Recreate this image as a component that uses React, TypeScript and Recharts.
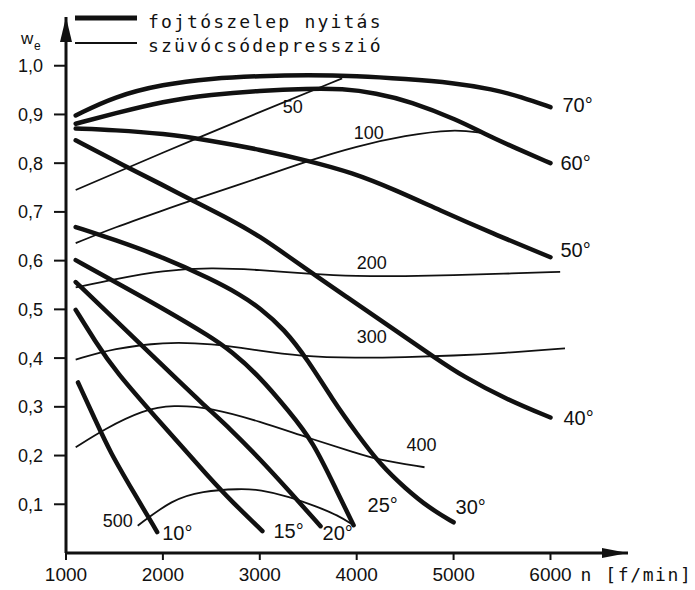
import React from "react";
import { LineChart, Line, XAxis, YAxis, ReferenceDot, Legend } from "recharts";

type Pt = [number, number];

const xTicks = [1000, 2000, 3000, 4000, 5000, 6000];
const yTicks = [0.1, 0.2, 0.3, 0.4, 0.5, 0.6, 0.7, 0.8, 0.9, 1.0];

// fojtószelep nyitás (thick) – [n, w_e]
const deg70: Pt[] = [[1100, 0.898], [1500, 0.937], [2000, 0.962], [2500, 0.974], [3000, 0.979], [3500, 0.981], [4000, 0.979], [4500, 0.973], [5000, 0.965], [5400, 0.952], [5700, 0.936], [6000, 0.915]];
const deg60: Pt[] = [[1100, 0.881], [1500, 0.902], [2000, 0.927], [2500, 0.941], [3000, 0.949], [3500, 0.953], [3850, 0.953], [4200, 0.944], [4550, 0.927], [5050, 0.888], [5300, 0.862], [5650, 0.83], [6000, 0.8]];
const deg50: Pt[] = [[1100, 0.871], [1500, 0.868], [2000, 0.861], [2500, 0.846], [3000, 0.828], [3500, 0.805], [3950, 0.781], [4400, 0.745], [4850, 0.704], [5400, 0.656], [6000, 0.607]];
const deg40: Pt[] = [[1100, 0.847], [1600, 0.795], [2000, 0.755], [2300, 0.724], [2700, 0.684], [3000, 0.65], [3300, 0.608], [3600, 0.566], [3900, 0.525], [4200, 0.484], [4500, 0.443], [4800, 0.402], [5100, 0.362], [5550, 0.315], [6000, 0.278]];
const deg30: Pt[] = [[1100, 0.669], [1500, 0.643], [2000, 0.607], [2500, 0.562], [2800, 0.53], [3000, 0.503], [3250, 0.46], [3500, 0.395], [3750, 0.315], [4000, 0.245], [4250, 0.18], [4500, 0.133], [4750, 0.092], [5000, 0.063]];
const deg25: Pt[] = [[1100, 0.601], [1500, 0.557], [2000, 0.502], [2500, 0.443], [2700, 0.415], [3000, 0.362], [3300, 0.291], [3550, 0.229], [3800, 0.125], [3968, 0.057]];
const deg20: Pt[] = [[1100, 0.556], [1500, 0.48], [2044, 0.376], [2400, 0.308], [2700, 0.254], [3000, 0.193], [3300, 0.128], [3627, 0.055]];
const deg15: Pt[] = [[1100, 0.499], [1300, 0.435], [1500, 0.375], [2000, 0.262], [2500, 0.15], [2700, 0.108], [3027, 0.045]];
const deg10: Pt[] = [[1124, 0.35], [1300, 0.274], [1455, 0.207], [1700, 0.124], [1941, 0.043]];

// szívócső depresszió (thin)
const dep50: Pt[] = [[1100, 0.745], [2000, 0.822], [3000, 0.905], [3850, 0.974]];
const dep100: Pt[] = [[1100, 0.636], [1500, 0.668], [2000, 0.703], [2300, 0.724], [3000, 0.77], [3500, 0.805], [4000, 0.835], [4500, 0.857], [5000, 0.87], [5300, 0.862]];
const dep200: Pt[] = [[1100, 0.545], [1500, 0.562], [2000, 0.58], [2500, 0.586], [3000, 0.581], [3500, 0.573], [4000, 0.568], [4500, 0.568], [5000, 0.57], [5500, 0.573], [6100, 0.577]];
const dep300: Pt[] = [[1100, 0.397], [1500, 0.42], [2000, 0.433], [2500, 0.43], [3000, 0.415], [3400, 0.404], [4000, 0.4], [4500, 0.402], [5000, 0.405], [5500, 0.41], [6150, 0.42]];
const dep400: Pt[] = [[1100, 0.217], [1400, 0.255], [1800, 0.294], [2100, 0.304], [2500, 0.298], [3000, 0.27], [3500, 0.236], [4000, 0.205], [4200, 0.192], [4700, 0.176]];
const dep500: Pt[] = [[1740, 0.056], [2100, 0.11], [2400, 0.127], [2800, 0.132], [3000, 0.13], [3300, 0.116], [3600, 0.094], [3800, 0.078], [3968, 0.057]];

const throttleNames = ["70°", "60°", "50°", "40°", "30°", "25°", "20°", "15°", "10°"];
const throttleSeries = [deg70, deg60, deg50, deg40, deg30, deg25, deg20, deg15, deg10];
const depNames = ["50", "100", "200", "300", "400", "500"];
const depSeries = [dep50, dep100, dep200, dep300, dep400, dep500];

// label placement: offset from the series' last point (thick) / an anchor point (thin)
const throttleLabelPos = [
  { dx: 12, dy: -2 }, { dx: 10, dy: 0 }, { dx: 10, dy: -7 }, { dx: 13, dy: 0 },
  { dx: 2, dy: -16 }, { dx: 14, dy: -20 }, { dx: 2, dy: 7 }, { dx: 11, dy: 0 }, { dx: 5, dy: 1 },
];
const depLabelPos = [
  { idx: 2, dx: 33, dy: -5 }, { idx: 6, dx: 12, dy: -14 }, { idx: 6, dx: 15, dy: -14 },
  { idx: 6, dx: 15, dy: -22 }, { idx: 9, dx: -3, dy: -23 }, { idx: 0, dx: -20, dy: -5 },
];

const INK = "#111";
const NUM_FONT = "'Liberation Sans', Arial, sans-serif";
const MONO_FONT = "'DejaVu Sans Mono', monospace";

const toRows = (pts: Pt[]) => pts.map(([n, w]) => ({ n, w }));
const fmt = (v: number) => v.toFixed(1).replace(".", ",");

const XTick = (props: any) => {
  const { x, y, payload } = props;
  return (
    <g>
      <text x={x} y={y} dy="0.71em" textAnchor="middle" fontSize={19} fontFamily={NUM_FONT} fill={INK}>
        {payload.value}
      </text>
      {payload.value === 6000 && (
        <text x={x + 30} y={y} dy="0.71em" fontSize={18} fontFamily={MONO_FONT} letterSpacing={1.6} fill={INK}>
          n [f/min]
        </text>
      )}
    </g>
  );
};

const YTick = (props: any) => {
  const { x, y, payload } = props;
  return (
    <text x={x} y={y} dy="0.36em" textAnchor="end" fontSize={18} fontFamily={NUM_FONT} fill={INK}>
      {fmt(payload.value)}
    </text>
  );
};

const LegendBox = () => (
  <svg width={340} height={58}>
    <line x1={5} x2={67} y1={18} y2={18} stroke={INK} strokeWidth={5} />
    <text x={78} y={28} fontSize={18} fontFamily={MONO_FONT} letterSpacing={2.2} fill={INK}>
      fojtószelep nyitás
    </text>
    <line x1={5} x2={67} y1={43} y2={43} stroke={INK} strokeWidth={2} />
    <text x={78} y={52} fontSize={18} fontFamily={MONO_FONT} letterSpacing={2.2} fill={INK}>
      szüvócsódepresszió
    </text>
  </svg>
);

export default function App() {
  return (
    <div style={{ position: "absolute", left: 0, top: 0, background: "#fff" }}>
      <LineChart width={695} height={590} margin={{ top: 17, right: 67, bottom: 0, left: 0 }}>
        <XAxis
          type="number"
          dataKey="n"
          domain={[1000, 6800]}
          ticks={xTicks}
          allowDataOverflow
          axisLine={{ stroke: INK, strokeWidth: 3 }}
          tickLine={{ stroke: INK, strokeWidth: 2 }}
          tickSize={7}
          tickMargin={8}
          height={37}
          tick={<XTick />}
        />
        <YAxis
          type="number"
          dataKey="w"
          domain={[0, 1.1]}
          ticks={yTicks}
          allowDataOverflow
          axisLine={{ stroke: INK, strokeWidth: 3 }}
          tickLine={{ stroke: INK, strokeWidth: 2 }}
          tickSize={12}
          tickMargin={11}
          width={66}
          tick={<YTick />}
        />
        <Legend
          layout="horizontal"
          verticalAlign="middle"
          align="center"
          wrapperStyle={{ top: 0, left: 70, width: 340 }}
          content={() => <LegendBox />}
        />
        {depSeries.map((pts, i) => (
          <Line
            key={"dep" + depNames[i]}
            data={toRows(pts)}
            dataKey="w"
            type="basis"
            stroke={INK}
            strokeWidth={1.8}
            dot={false}
            activeDot={false}
            isAnimationActive={false}
          />
        ))}
        {throttleSeries.map((pts, i) => (
          <Line
            key={"deg" + throttleNames[i]}
            data={toRows(pts)}
            dataKey="w"
            type="basis"
            stroke={INK}
            strokeWidth={4.5}
            strokeLinecap="round"
            dot={false}
            activeDot={false}
            isAnimationActive={false}
          />
        ))}
        {throttleSeries.map((pts, i) => {
          const [n, w] = pts[pts.length - 1];
          const { dx, dy } = throttleLabelPos[i];
          return (
            <ReferenceDot
              key={"lbl" + i}
              x={n}
              y={w}
              r={0}
              ifOverflow="visible"
              shape={(p: any) => (
                <text x={p.cx + dx} y={p.cy + dy} dy="0.36em" fontSize={20} fontFamily={NUM_FONT} fill={INK}>
                  {throttleNames[i]}
                </text>
              )}
            />
          );
        })}
        {depSeries.map((pts, i) => {
          const { idx, dx, dy } = depLabelPos[i];
          const [n, w] = pts[idx];
          return (
            <ReferenceDot
              key={"dl" + i}
              x={n}
              y={w}
              r={0}
              ifOverflow="visible"
              shape={(p: any) => (
                <text x={p.cx + dx} y={p.cy + dy} dy="0.36em" textAnchor="middle" fontSize={18} fontFamily={NUM_FONT} fill={INK}>
                  {depNames[i]}
                </text>
              )}
            />
          );
        })}
        <ReferenceDot
          x={6800}
          y={0}
          r={0}
          ifOverflow="visible"
          shape={(p: any) => (
            <polygon points={`${p.cx},${p.cy} ${p.cx - 26},${p.cy - 5} ${p.cx - 26},${p.cy + 5}`} fill={INK} />
          )}
        />
        <ReferenceDot
          x={1000}
          y={1.1}
          r={0}
          ifOverflow="visible"
          shape={(p: any) => (
            <g>
              <polygon points={`${p.cx},${p.cy} ${p.cx - 6},${p.cy + 25} ${p.cx + 6},${p.cy + 25}`} fill={INK} />
              <text x={p.cx - 45} y={p.cy + 27} fontSize={17} fontFamily={NUM_FONT} fill={INK}>w</text>
              <text x={p.cx - 32} y={p.cy + 33} fontSize={12} fontFamily={NUM_FONT} fill={INK}>e</text>
            </g>
          )}
        />
      </LineChart>
    </div>
  );
}
